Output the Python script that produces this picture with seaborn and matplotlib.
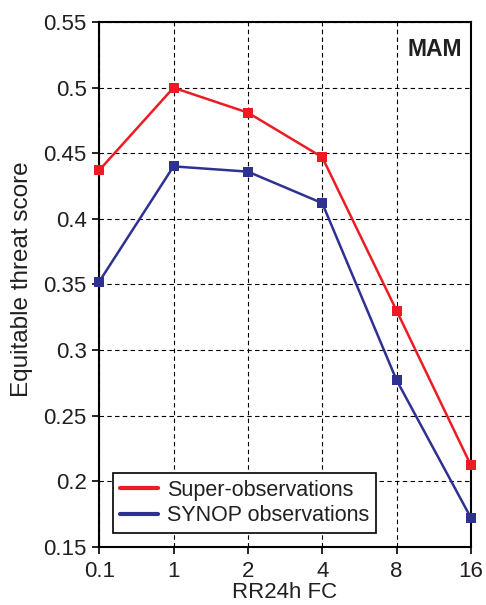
import matplotlib
matplotlib.use("Agg")
import matplotlib.pyplot as plt
import seaborn as sns
import pandas as pd

thresholds = ["0.1", "1", "2", "4", "8", "16"]
super_obs = [0.437, 0.500, 0.481, 0.447, 0.330, 0.212]
synop_obs = [0.352, 0.440, 0.436, 0.412, 0.277, 0.172]
series_names = ["Super-observations", "SYNOP observations"]
colors = ["#ED1C24", "#2E3192"]
y_ticks = [0.15, 0.2, 0.25, 0.3, 0.35, 0.4, 0.45, 0.5, 0.55]
y_tick_labels = ["0.15", "0.2", "0.25", "0.3", "0.35", "0.4", "0.45", "0.5", "0.55"]

sns.set_style("white")
plt.rcParams["font.family"] = ["Liberation Sans", "DejaVu Sans"]
txt = "#231F20"

df = pd.DataFrame({
    "x": list(range(len(thresholds))) * 2,
    "ets": super_obs + synop_obs,
    "series": [series_names[0]] * len(thresholds) + [series_names[1]] * len(thresholds),
})

fig = plt.figure(figsize=(4.86, 6.05), dpi=100)
ax = fig.add_axes([0.204, 0.0964, 0.765, 0.867])

sns.lineplot(data=df, x="x", y="ets", hue="series", hue_order=series_names,
             palette=colors, marker="s", markersize=6.6, markeredgewidth=0,
             linewidth=1.8, ax=ax, clip_on=False, zorder=5)

ax.set_xlim(0, len(thresholds) - 1)
ax.set_ylim(0.15, 0.55)
ax.set_xticks(range(len(thresholds)))
ax.set_xticklabels(thresholds)
ax.set_yticks(y_ticks)
ax.set_yticklabels(y_tick_labels)
ax.tick_params(axis="both", direction="out", length=5, width=1.2, color="black",
               labelsize=16, labelcolor=txt, bottom=True, left=True)
ax.tick_params(axis="y", pad=4)
ax.tick_params(axis="x", pad=5)
ax.grid(True, color="black", linestyle=(0, (4, 3)), linewidth=0.8)
ax.set_axisbelow(True)
for s in ax.spines.values():
    s.set_color("black")
    s.set_linewidth(1.5)

ax.set_xlabel("RR24h FC", fontsize=16, color=txt)
ax.set_ylabel("Equitable threat score", fontsize=17.5, color=txt)
ax.xaxis.set_label_coords(0.5, -0.068)
ax.yaxis.set_label_coords(-0.178, 0.51)

ax.text(0.976, 0.97, "MAM", transform=ax.transAxes, ha="right", va="top",
        fontsize=16.5, fontweight="bold", color=txt)

leg = ax.legend(loc="lower left", bbox_to_anchor=(0.038, 0.027), fontsize=15.5,
                frameon=True, fancybox=False, handlelength=1.8, handletextpad=0.4,
                borderpad=0.3, labelspacing=0.2, borderaxespad=0)
leg.get_frame().set_edgecolor("black")
leg.get_frame().set_linewidth(1.2)
leg.get_frame().set_alpha(1)
for h in leg.get_lines():
    h.set_marker("")
    h.set_linewidth(3)
for t in leg.get_texts():
    t.set_color(txt)

fig.savefig("out.png", dpi=100)
